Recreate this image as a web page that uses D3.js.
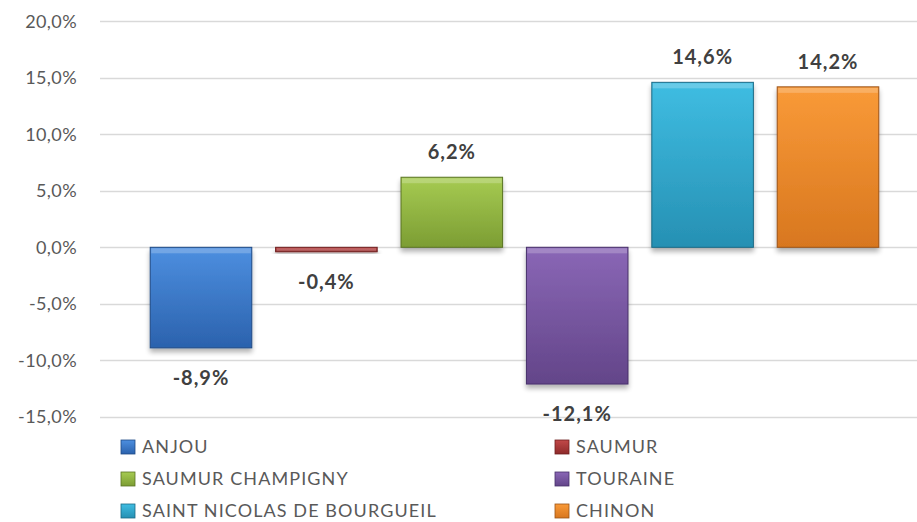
<!DOCTYPE html>
<html>
<head>
<meta charset="utf-8">
<script src="https://cdn.jsdelivr.net/npm/d3@7"></script>
<style>
  body { margin: 0; background: #fff; }
  svg { display: block; font-family: "Lato", "Open Sans", sans-serif; }
</style>
</head>
<body>
<svg id="chart" width="917" height="522"></svg>
<script>
// chart data
var names = ["ANJOU", "SAUMUR", "SAUMUR CHAMPIGNY", "TOURAINE", "SAINT NICOLAS DE BOURGUEIL", "CHINON"];
var values = [-8.9, -0.4, 6.2, -12.1, 14.6, 14.2];
var yTicks = [-15, -10, -5, 0, 5, 10, 15, 20];
var lightColors = ["#4d8fe0", "#c24848", "#a6cb52", "#8a67b6", "#3fbde2", "#f99a38"];
var darkColors = ["#2b62ad", "#8e2a2a", "#7c9d33", "#634589", "#2690b3", "#d8771f"];
var edgeColors = ["#1f4a85", "#6e1f1f", "#5a7424", "#46306a", "#1b6a85", "#9c5316"];

var svg = d3.select("#chart");
var fmt = function(v) { return v.toFixed(1).replace(".", ",") + "%"; };

var y = d3.scaleLinear().domain([-15, 20]).range([416.8, 21.3]);
var x = d3.scaleBand().domain(names).range([138.3, 890.7]).paddingInner(0.19).paddingOuter(0.095);

//gradients and shadow
var defs = svg.append("defs");
names.forEach(function(n, i) {
  var g = defs.append("linearGradient").attr("id", "grad" + i)
    .attr("x1", 0).attr("y1", 0).attr("x2", 0).attr("y2", 1);
  g.append("stop").attr("offset", "0%").attr("stop-color", lightColors[i]);
  g.append("stop").attr("offset", "100%").attr("stop-color", darkColors[i]);
});
var shadow = defs.append("filter").attr("id", "shadow")
  .attr("x", "-10%").attr("y", "-10%").attr("width", "120%").attr("height", "140%");
shadow.append("feGaussianBlur").attr("in", "SourceAlpha").attr("stdDeviation", 2.5);
shadow.append("feOffset").attr("dx", 0).attr("dy", 4).attr("result", "blur");
shadow.append("feComponentTransfer").append("feFuncA").attr("type", "linear").attr("slope", 0.3);
var merge = shadow.append("feMerge");
merge.append("feMergeNode");
merge.append("feMergeNode").attr("in", "SourceGraphic");

//gridlines
svg.append("g").selectAll("line")
  .data(yTicks)
  .enter()
  .append("line")
  .attr("x1", 100).attr("x2", 917)
  .attr("y1", function(d) { return Math.round(y(d)) + 0.5; })
  .attr("y2", function(d) { return Math.round(y(d)) + 0.5; })
  .attr("stroke", "#d9d9d9").attr("stroke-width", 1.5);

//y axis labels
var yAxis = d3.axisLeft(y).tickValues(yTicks).tickFormat(fmt).tickSize(0).tickPadding(0);
var ya = svg.append("g").attr("transform", "translate(77,0)").call(yAxis);
ya.select(".domain").remove();
ya.selectAll("text")
  .style("font-size", "18px")
  .style("letter-spacing", "0.4px")
  .style("font-family", "Lato, sans-serif")
  .attr("fill", "#595959");

//bars
var bars = svg.append("g").selectAll("g")
  .data(values)
  .enter()
  .append("g")
  .attr("filter", "url(#shadow)");

bars.append("rect")
  .attr("x", function(d, i) { return x(names[i]); })
  .attr("y", function(d) { return y(Math.max(0, d)); })
  .attr("width", x.bandwidth())
  .attr("height", function(d) { return Math.abs(y(d) - y(0)); })
  .attr("fill", function(d, i) { return "url(#grad" + i + ")"; })
  .attr("stroke", function(d, i) { return edgeColors[i]; })
  .attr("stroke-width", 1);

//bevel highlight along top edge
bars.append("rect")
  .attr("x", function(d, i) { return x(names[i]) + 1; })
  .attr("y", function(d) { return y(Math.max(0, d)) + 1; })
  .attr("width", x.bandwidth() - 2)
  .attr("height", function(d) { return Math.min(5, Math.abs(y(d) - y(0)) - 2); })
  .attr("fill", "#fff").attr("opacity", 0.22);

//data labels
svg.append("g").selectAll("text")
  .data(values)
  .enter()
  .append("text")
  .text(fmt)
  .attr("x", function(d, i) { return x(names[i]) + x.bandwidth() / 2; })
  .attr("y", function(d) { return d >= 0 ? y(d) - 18 : y(d) + 37; })
  .attr("text-anchor", "middle")
  .style("font-size", "20px")
  .style("letter-spacing", "1px")
  .style("font-weight", "bold")
  .attr("fill", "#404040");

//legend
var legend = svg.append("g").selectAll("g")
  .data(names)
  .enter()
  .append("g")
  .attr("transform", function(d, i) {
    var col = i % 2, row = Math.floor(i / 2);
    return "translate(" + (col ? 555 : 121) + "," + (447 + row * 32) + ")";
  });
legend.append("rect")
  .attr("x", 0).attr("y", -7).attr("width", 14).attr("height", 14)
  .attr("fill", function(d, i) { return "url(#grad" + i + ")"; })
  .attr("stroke", function(d, i) { return edgeColors[i]; })
  .attr("stroke-width", 0.8);
legend.append("text")
  .text(function(d) { return d; })
  .attr("x", 21).attr("y", 6)
  .style("font-size", "18px")
  .style("letter-spacing", "1.1px")
  .attr("fill", "#595959");
</script>
</body>
</html>
